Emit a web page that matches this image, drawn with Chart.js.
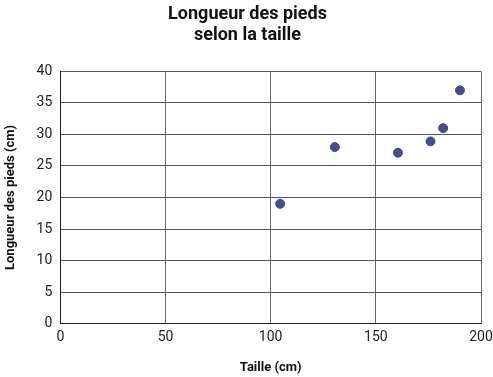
<!DOCTYPE html>
<html>
<head>
<meta charset="utf-8">
<script src="https://cdn.jsdelivr.net/npm/chart.js@4"></script>
<style>
html,body{margin:0;padding:0;background:#fff;}
#wrap{width:493px;height:377px;}
</style>
</head>
<body>
<div id="wrap"><canvas id="c"></canvas></div>
<script>
const heights = [104.5, 130.5, 160.5, 176, 182, 190];
const footLengths = [19, 28, 27.1, 28.9, 31, 37];
const titleLines = ["Longueur des pieds", "selon la taille"];
const xTitle = "Taille (cm)";
const yTitle = "Longueur des pieds (cm)";

const points = heights.map((h, i) => ({x: h, y: footLengths[i]}));

new Chart(document.getElementById('c'), {
  type: 'scatter',
  data: {
    datasets: [{
      data: points,
      backgroundColor: '#4a4a94',
      borderColor: '#4a4a94',
      pointRadius: 4.5,
      pointHoverRadius: 4.5
    }]
  },
  options: {
    responsive: true,
    maintainAspectRatio: false,
    animation: false,
    layout: {padding: {left: 3, right: 1, top: 0, bottom: 1}},
    plugins: {
      legend: {display: false},
      tooltip: {enabled: false},
      title: {
        display: true,
        text: titleLines,
        color: '#111',
        font: {family: 'Roboto', size: 18, weight: 'bold', lineHeight: 1.15},
        padding: {top: 4, bottom: 26}
      }
    },
    scales: {
      x: {
        type: 'linear',
        min: 0, max: 200,
        afterFit: (s) => { s.paddingRight = 12; },
        ticks: {stepSize: 50, color: '#222', font: {family: 'Roboto', size: 14}, padding: 5},
        grid: {color: '#666', lineWidth: 1, drawTicks: false},
        border: {color: '#222', width: 1},
        title: {display: true, text: xTitle, color: '#111', font: {family: 'Roboto', size: 13, weight: 'bold'}, padding: {top: 10, bottom: 0}}
      },
      y: {
        type: 'linear',
        min: 0, max: 40,
        ticks: {stepSize: 5, color: '#222', font: {family: 'Roboto', size: 14}, padding: 8},
        grid: {color: '#555', lineWidth: 1, drawTicks: false},
        border: {color: '#222', width: 1},
        title: {display: true, text: yTitle, color: '#111', font: {family: 'Roboto', size: 13, weight: 'bold'}, padding: {top: 0, bottom: 10}}
      }
    }
  }
});
</script>
</body>
</html>
